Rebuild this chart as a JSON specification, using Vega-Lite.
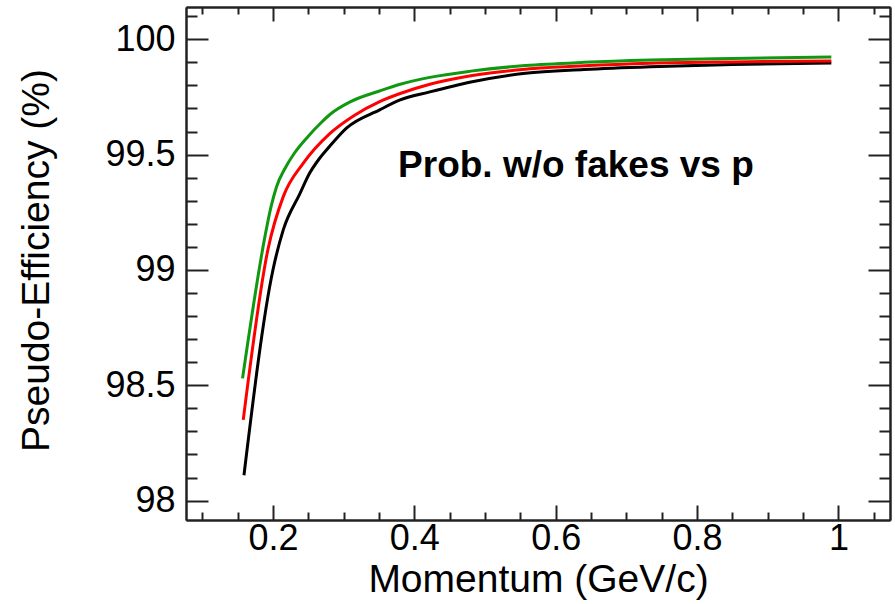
{
  "$schema": "https://vega.github.io/schema/vega-lite/v6.json",
  "width": 704,
  "height": 513,
  "autosize": {"type": "none"},
  "padding": {"left": 186, "top": 7, "right": 5, "bottom": 84},
  "background": "white",
  "config": {
    "view": {"stroke": null},
    "axis": {
      "grid": false,
      "labelFont": "Liberation Sans",
      "labelFontSize": 36,
      "labelColor": "#000000",
      "titleFont": "Liberation Sans",
      "titleFontSize": 39,
      "titleFontWeight": "normal",
      "titleColor": "#000000",
      "domainColor": "#222222",
      "domainWidth": 2,
      "tickColor": "#222222",
      "tickWidth": 2
    }
  },
  "data": {
    "values": [
      {"series": "black", "p": 0.159, "eff": 98.11},
      {"series": "black", "p": 0.2, "eff": 99.0},
      {"series": "black", "p": 0.2146, "eff": 99.174},
      {"series": "black", "p": 0.238, "eff": 99.33},
      {"series": "black", "p": 0.252, "eff": 99.42},
      {"series": "black", "p": 0.265, "eff": 99.48},
      {"series": "black", "p": 0.28, "eff": 99.535},
      {"series": "black", "p": 0.304, "eff": 99.615},
      {"series": "black", "p": 0.351, "eff": 99.694},
      {"series": "black", "p": 0.38, "eff": 99.737},
      {"series": "black", "p": 0.422, "eff": 99.772},
      {"series": "black", "p": 0.48, "eff": 99.815},
      {"series": "black", "p": 0.557, "eff": 99.853},
      {"series": "black", "p": 0.64, "eff": 99.869},
      {"series": "black", "p": 0.734, "eff": 99.881},
      {"series": "black", "p": 0.85, "eff": 99.891},
      {"series": "black", "p": 0.99, "eff": 99.897},
      {"series": "red", "p": 0.158, "eff": 98.35},
      {"series": "red", "p": 0.193, "eff": 99.09},
      {"series": "red", "p": 0.2146, "eff": 99.318},
      {"series": "red", "p": 0.243, "eff": 99.463},
      {"series": "red", "p": 0.28, "eff": 99.59},
      {"series": "red", "p": 0.315, "eff": 99.67},
      {"series": "red", "p": 0.351, "eff": 99.73},
      {"series": "red", "p": 0.38, "eff": 99.765},
      {"series": "red", "p": 0.422, "eff": 99.805},
      {"series": "red", "p": 0.48, "eff": 99.842},
      {"series": "red", "p": 0.557, "eff": 99.87},
      {"series": "red", "p": 0.64, "eff": 99.885},
      {"series": "red", "p": 0.734, "eff": 99.896},
      {"series": "red", "p": 0.85, "eff": 99.902},
      {"series": "red", "p": 0.99, "eff": 99.906},
      {"series": "green", "p": 0.157, "eff": 98.53},
      {"series": "green", "p": 0.189, "eff": 99.15},
      {"series": "green", "p": 0.197, "eff": 99.27},
      {"series": "green", "p": 0.205, "eff": 99.36},
      {"series": "green", "p": 0.217, "eff": 99.44},
      {"series": "green", "p": 0.23, "eff": 99.505},
      {"series": "green", "p": 0.25, "eff": 99.58},
      {"series": "green", "p": 0.267, "eff": 99.635},
      {"series": "green", "p": 0.281, "eff": 99.675},
      {"series": "green", "p": 0.31, "eff": 99.73},
      {"series": "green", "p": 0.351, "eff": 99.776},
      {"series": "green", "p": 0.38, "eff": 99.805},
      {"series": "green", "p": 0.422, "eff": 99.835},
      {"series": "green", "p": 0.48, "eff": 99.862},
      {"series": "green", "p": 0.557, "eff": 99.886},
      {"series": "green", "p": 0.64, "eff": 99.9},
      {"series": "green", "p": 0.734, "eff": 99.91},
      {"series": "green", "p": 0.85, "eff": 99.917},
      {"series": "green", "p": 0.99, "eff": 99.923}
    ]
  },
  "layer": [
    {
      "transform": [{"filter": "datum.series === 'black'"}],
      "mark": {"type": "line", "color": "#000000", "strokeWidth": 3, "interpolate": "monotone"},
      "encoding": {
        "x": {"field": "p", "type": "quantitative", "scale": {"domain": [0.077, 1.073], "nice": false, "zero": false},
          "axis": {"orient": "bottom", "values": [0.2, 0.4, 0.6, 0.8, 1], "format": "~g", "tickSize": -15, "labelPadding": 16, "title": "Momentum (GeV/c)", "titlePadding": 4}},
        "y": {"field": "eff", "type": "quantitative", "scale": {"domain": [97.916, 100.14], "nice": false, "zero": false},
          "axis": {"orient": "left", "values": [98, 98.5, 99, 99.5, 100], "format": "~g", "tickSize": -22, "labelPadding": 33, "title": "Pseudo-Efficiency (%)", "titlePadding": 48, "titleY": 253}}
      }
    },
    {
      "transform": [{"filter": "datum.series === 'red'"}],
      "mark": {"type": "line", "color": "#ff0000", "strokeWidth": 3, "interpolate": "monotone"},
      "encoding": {
        "x": {"field": "p", "type": "quantitative", "scale": {"domain": [0.077, 1.073], "nice": false, "zero": false},
          "axis": {"orient": "bottom", "values": [0.1, 0.15, 0.25, 0.3, 0.35, 0.45, 0.5, 0.55, 0.65, 0.7, 0.75, 0.85, 0.9, 0.95, 1.05], "tickSize": -8, "labels": false, "title": null}},
        "y": {"field": "eff", "type": "quantitative", "scale": {"domain": [97.916, 100.14], "nice": false, "zero": false},
          "axis": {"orient": "left", "values": [98.1, 98.2, 98.3, 98.4, 98.6, 98.7, 98.8, 98.9, 99.1, 99.2, 99.3, 99.4, 99.6, 99.7, 99.8, 99.9, 100.1], "tickSize": -11, "labels": false, "title": null}}
      }
    },
    {
      "transform": [{"filter": "datum.series === 'green'"}],
      "mark": {"type": "line", "color": "#109910", "strokeWidth": 3, "interpolate": "monotone"},
      "encoding": {
        "x": {"field": "p", "type": "quantitative", "scale": {"domain": [0.077, 1.073], "nice": false, "zero": false},
          "axis": {"orient": "top", "values": [0.2, 0.4, 0.6, 0.8, 1], "tickSize": -14, "labels": false, "title": null}},
        "y": {"field": "eff", "type": "quantitative", "scale": {"domain": [97.916, 100.14], "nice": false, "zero": false},
          "axis": {"orient": "right", "values": [98, 98.5, 99, 99.5, 100], "tickSize": -22, "labels": false, "title": null}}
      }
    },
    {
      "data": {"values": [{"label": "Prob. w/o fakes vs p", "p": 0.377, "eff": 99.403}]},
      "mark": {"type": "text", "align": "left", "baseline": "alphabetic", "font": "Liberation Sans", "fontSize": 37, "fontWeight": "bold", "color": "#000000"},
      "encoding": {
        "text": {"field": "label"},
        "x": {"field": "p", "type": "quantitative", "scale": {"domain": [0.077, 1.073], "nice": false, "zero": false},
          "axis": {"orient": "top", "values": [0.1, 0.15, 0.25, 0.3, 0.35, 0.45, 0.5, 0.55, 0.65, 0.7, 0.75, 0.85, 0.9, 0.95, 1.05], "tickSize": -7, "labels": false, "title": null}},
        "y": {"field": "eff", "type": "quantitative", "scale": {"domain": [97.916, 100.14], "nice": false, "zero": false},
          "axis": {"orient": "right", "values": [98.1, 98.2, 98.3, 98.4, 98.6, 98.7, 98.8, 98.9, 99.1, 99.2, 99.3, 99.4, 99.6, 99.7, 99.8, 99.9, 100.1], "tickSize": -11, "labels": false, "title": null}}
      }
    }
  ],
  "resolve": {"axis": {"x": "independent", "y": "independent"}}
}
